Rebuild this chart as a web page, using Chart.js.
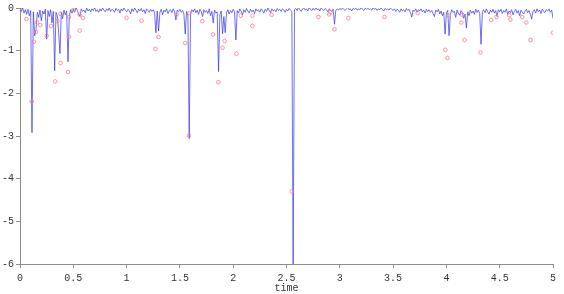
<!DOCTYPE html>
<html>
<head>
<meta charset="utf-8">
<script src="https://cdn.jsdelivr.net/npm/chart.js@4/dist/chart.umd.min.js"></script>
<style>
html,body{margin:0;padding:0;background:#fff;}
#wrap{width:564px;height:294px;}
</style>
</head>
<body>
<div id="wrap"><canvas id="c" width="564" height="294"></canvas></div>
<script>
// Sampling grid of the blue signal (time axis)
const tStart = 0;
const sampleStep = 0.0125;

// Blue signal values (401 samples, t = 0 .. 5)
const signal = [
 -0.02,-0.08,0.01,-0.12,-0.04,-0.15,-0.03,-0.18,-0.06,-2.92,-0.09,-0.65,-0.50,-0.10,-0.22,-0.05,-0.30,-0.07,-0.14,-0.03,
 -0.73,-0.06,-0.20,-0.04,-0.35,-0.08,-1.47,-0.10,-0.18,-0.58,-1.07,-0.09,-0.25,-0.05,-0.16,-0.07,-1.26,-0.20,-0.04,-0.12,
 -0.03,-0.10,0.01,-0.06,-0.14,-0.19,-0.02,-0.08,-0.05,-0.11,0.00,-0.07,-0.03,-0.09,-0.02,-0.06,0.01,-0.08,-0.04,-0.10,
 -0.02,-0.07,0.00,-0.05,-0.09,-0.02,-0.06,0.01,-0.08,-0.03,-0.05,-0.10,-0.01,-0.06,-0.03,-0.12,-0.02,-0.07,0.00,-0.05,
 -0.09,-0.03,-0.06,-0.14,-0.02,-0.08,0.00,-0.05,-0.11,-0.03,-0.07,-0.01,-0.09,-0.04,-0.13,-0.02,-0.06,-0.10,-0.03,-0.08,
 -0.04,-0.12,-0.58,-0.07,-0.54,-0.10,-0.03,-0.16,-0.05,-0.09,-0.02,-0.13,-0.06,-0.04,-0.11,-0.02,-0.08,-0.28,-0.05,-0.09,
 -0.03,-0.10,-0.06,-0.14,-0.61,-0.08,-0.18,-3.06,-0.12,-0.04,-0.09,-0.02,-0.11,-0.05,-0.15,-0.03,-0.08,-0.20,-0.04,-0.10,
 -0.06,-0.13,-0.02,-0.18,-0.08,-0.35,-0.05,-0.12,-0.09,-1.49,-0.15,-0.07,-0.61,-0.20,-0.58,-0.10,-0.04,-0.14,-0.06,-0.11,
 -0.03,-0.09,-0.75,-0.06,-0.12,-0.02,-0.08,-0.16,-0.04,-0.10,-0.01,-0.07,-0.12,-0.03,-0.09,-0.05,-0.13,-0.02,-0.07,-0.04,
 -0.10,-0.02,-0.06,-0.12,-0.03,-0.08,0.00,-0.05,-0.11,-0.02,-0.07,-0.04,-0.09,-0.01,-0.06,-0.03,-0.08,-0.02,-0.05,-0.10,
 -0.03,-0.07,-0.01,-0.05,-0.08,-6.00,-0.04,-0.01,-0.06,0.01,-0.04,-0.08,-0.02,0.00,-0.05,-0.02,-0.07,0.01,-0.03,-0.06,
 -0.01,-0.05,0.01,-0.04,-0.02,-0.07,0.00,-0.03,-0.06,-0.01,-0.04,-0.09,-0.02,-0.05,-0.08,-0.03,-0.38,-0.06,-0.02,-0.05,
 -0.01,-0.04,0.00,-0.03,-0.06,-0.02,0.01,-0.04,-0.02,-0.07,-0.01,-0.03,0.00,-0.05,-0.02,-0.04,0.01,-0.03,-0.06,-0.01,
 -0.03,0.00,-0.04,-0.02,-0.05,0.01,-0.03,-0.01,-0.06,-0.02,-0.04,0.00,-0.03,-0.07,-0.01,-0.04,-0.02,-0.05,0.00,-0.03,
 -0.06,-0.02,-0.08,-0.03,-0.05,-0.10,-0.02,-0.07,-0.04,-0.09,-0.01,-0.06,-0.03,-0.11,-0.21,-0.05,-0.08,-0.02,-0.10,-0.04,
 -0.07,-0.02,-0.09,-0.05,-0.12,-0.03,-0.08,-0.04,-0.10,-0.06,-0.13,-0.20,-0.05,-0.09,-0.03,-0.14,-0.07,-0.18,-0.10,-0.61,
 -0.12,-0.06,-0.65,-0.15,-0.04,-0.10,-0.08,-0.22,-0.05,-0.12,-0.17,-0.06,-0.10,-0.24,-0.14,-0.47,-0.09,-0.18,-0.05,-0.12,
 -0.07,-0.15,-0.03,-0.10,-0.05,-0.13,-0.85,-0.08,-0.04,-0.11,-0.02,-0.09,-0.14,-0.05,-0.10,-0.03,-0.12,-0.06,-0.20,-0.04,
 -0.09,-0.03,-0.13,-0.06,-0.10,-0.02,-0.15,-0.07,-0.11,-0.04,-0.16,-0.08,-0.03,-0.12,-0.06,-0.18,-0.05,-0.10,-0.14,-0.07,
 -0.03,-0.11,-0.06,-0.15,-0.26,-0.08,-0.04,-0.12,-0.02,-0.09,-0.05,-0.13,-0.03,-0.08,-0.11,-0.04,-0.07,-0.02,-0.10,-0.05,
 -0.24
];

// Red circle markers
const markerTimes = [0.00,0.06,0.11,0.13,0.15,0.16,0.19,0.25,0.29,0.33,0.35,0.38,0.38,0.45,0.46,0.46,0.50,0.56,0.56,0.59,
  1.00,1.14,1.27,1.30,1.47,1.55,1.585,1.59,1.71,1.81,1.86,1.90,1.92,2.03,2.07,2.18,2.18,2.36,2.55,
  2.80,2.90,2.91,2.95,3.08,3.42,3.73,3.99,4.01,4.02,4.14,4.15,4.17,4.32,4.42,4.47,4.59,4.60,4.71,4.75,4.79,5.00];
const markerValues = [0.00,-0.26,-2.19,-0.79,-0.56,-0.34,-0.40,-0.65,-0.42,-1.72,-0.31,-1.29,-0.14,-1.50,-0.68,-0.21,-0.05,-0.53,-0.16,-0.23,
  -0.23,-0.30,-0.96,-0.68,-0.15,-0.82,-2.99,-0.12,-0.31,-0.62,-1.74,-0.93,-0.77,-1.07,-0.18,-0.18,-0.42,-0.16,-4.30,
  -0.21,-0.15,-0.10,-0.50,-0.24,-0.21,-0.12,-0.98,-1.17,-0.18,-0.34,-0.16,-0.75,-1.04,-0.28,-0.21,-0.17,-0.27,-0.21,-0.34,-0.75,-0.58];

const xTicksStep = 0.5;
const yTicksStep = 1;

const signalPts = signal.map((v, i) => ({x: tStart + i * sampleStep, y: v}));
const markerPts = markerTimes.map((t, i) => ({x: t, y: markerValues[i]}));

const monoFont = {family: '"Liberation Mono", "DejaVu Sans Mono", monospace', size: 10};
const axisColor = '#8c8c8c';
const fmt = v => String(Math.round(v * 10) / 10);

new Chart(document.getElementById('c'), {
  type: 'scatter',
  data: {
    datasets: [
      {
        data: markerPts,
        showLine: false,
        pointRadius: 1.8,
        pointBorderWidth: 1,
        pointBorderColor: 'rgba(245,130,145,0.85)',
        pointBackgroundColor: 'rgba(255,255,255,0)'
      },
      {
        data: signalPts,
        showLine: true,
        pointRadius: 0,
        borderWidth: 0.9,
        borderColor: 'rgba(55,55,240,0.8)',
        tension: 0
      }
    ]
  },
  options: {
    responsive: false,
    animation: false,
    devicePixelRatio: 1,
    layout: {padding: {top: 7, right: 11, left: 0, bottom: 0}},
    plugins: {legend: {display: false}, tooltip: {enabled: false}},
    scales: {
      x: {
        type: 'linear', min: 0, max: 5,
        ticks: {stepSize: xTicksStep, font: monoFont, color: '#333', padding: 4, maxRotation: 0, callback: fmt},
        grid: {drawOnChartArea: false, drawTicks: true, tickLength: 4, color: axisColor},
        border: {color: axisColor},
        title: {display: true, text: 'time', font: monoFont, color: '#333', padding: {top: 0, bottom: 0}},
        afterFit: s => { s.height = 30; }
      },
      y: {
        min: -6, max: 0,
        ticks: {stepSize: yTicksStep, font: monoFont, color: '#333', padding: 2, callback: fmt},
        grid: {drawOnChartArea: false, drawTicks: true, tickLength: 4, color: axisColor},
        border: {color: axisColor},
        afterFit: s => { s.width = 20; }
      }
    }
  }
});
</script>
</body>
</html>
